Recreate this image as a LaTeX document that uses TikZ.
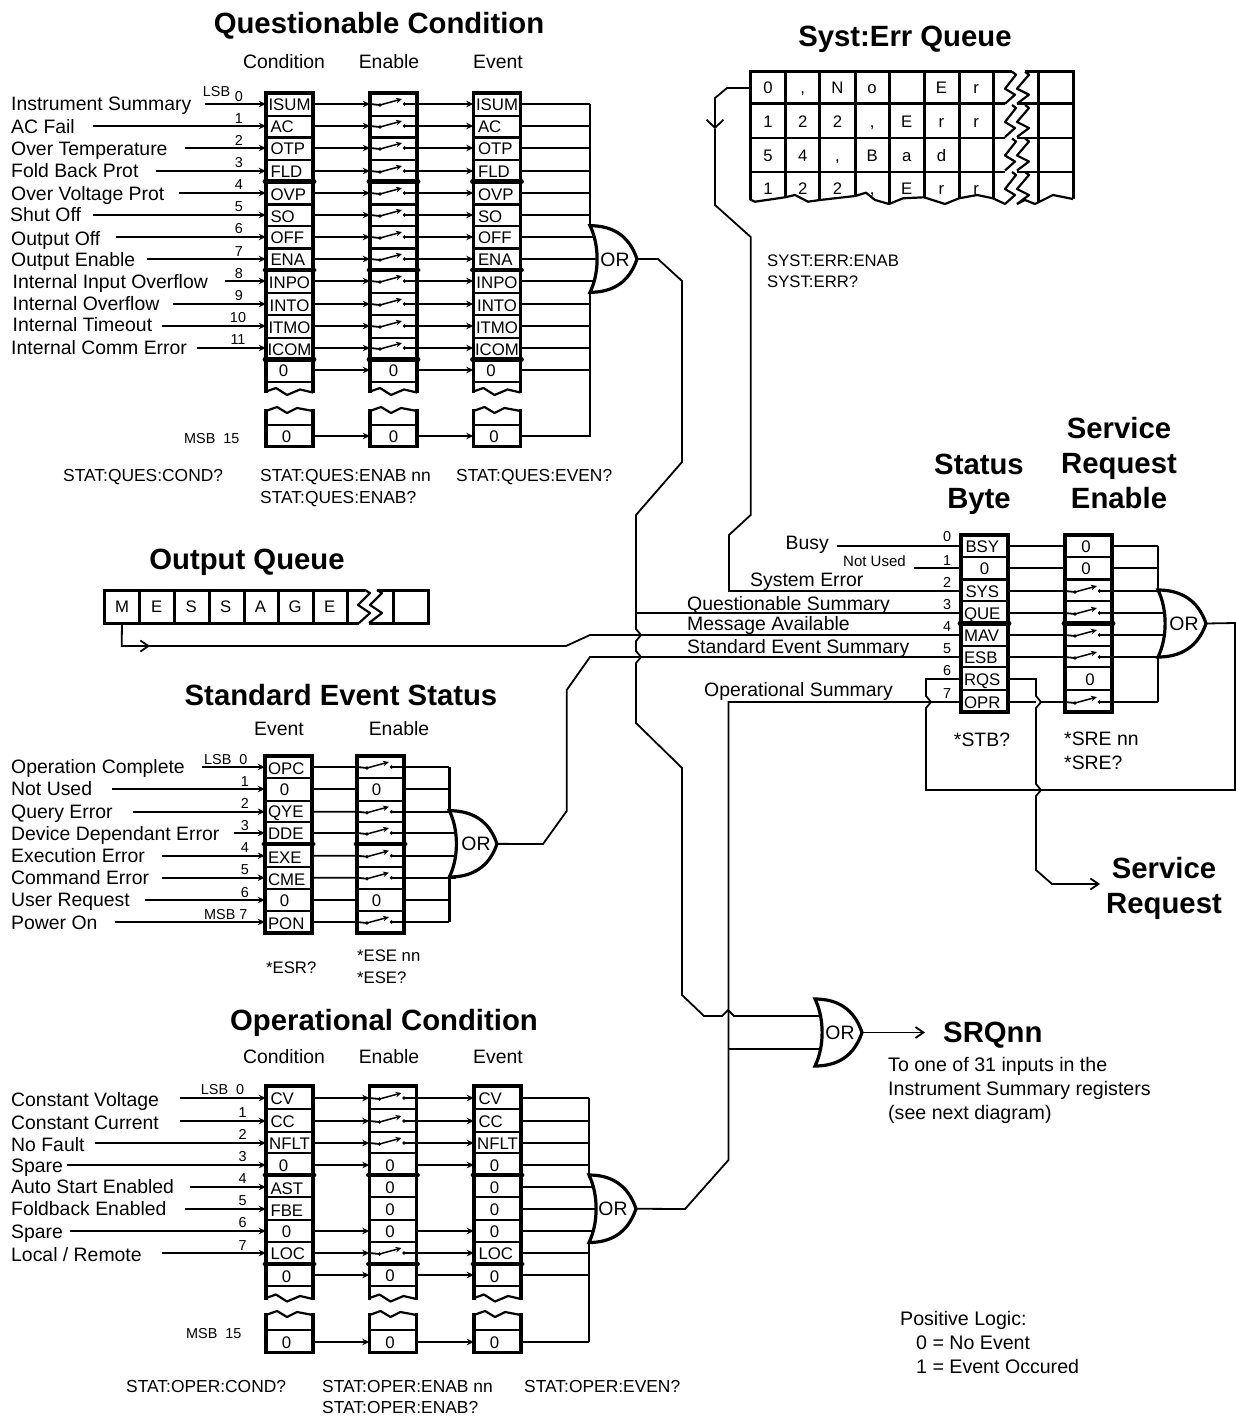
\documentclass[tikz,border=0pt]{standalone}
\usepackage{fontspec}
\setmainfont{Liberation Sans}
\usetikzlibrary{arrows.meta,calc}
\tikzset{
  t19/.style={font=\fontsize{19.4}{22}\selectfont,inner sep=0pt,text height=14pt,text depth=0pt},
  t196/.style={font=\fontsize{19.6}{22}\selectfont,inner sep=0pt,text height=14pt,text depth=0pt},
  t17/.style={font=\fontsize{16.7}{20}\selectfont,inner sep=0pt,text height=12pt,text depth=0pt},
  t174/.style={font=\fontsize{17.4}{20}\selectfont,inner sep=0pt,text height=12.5pt,text depth=0pt},
  t14/.style={font=\fontsize{14.4}{16}\selectfont,inner sep=0pt,text height=10.4pt,text depth=0pt},
  ttl/.style={font=\fontsize{29.3}{32}\selectfont\bfseries,inner sep=0pt,text height=21pt,text depth=0pt},
  cell/.style={font=\fontsize{16.8}{20}\selectfont,inner sep=0pt,minimum width=47pt,minimum height=20pt,text height=12.2pt,text depth=0pt},
  ctr/.style={},
  ctl/.style={text height=15pt},
  lf/.style={text width=38pt,align=left},
  lfl/.style={text width=38pt,align=left,text height=15pt},
  lg/.style={text width=41pt,align=left},
  lgl/.style={text width=41pt,align=left,text height=15pt},
  sig/.style={line width=1.8pt,line join=miter},
  ar/.style={-{Stealth[length=7pt,width=6.5pt]}},
  opn/.style={-{Straight Barb[length=8pt,width=11pt]}},
  arm/.style={line width=1.5pt,-{Stealth[length=6pt,width=5.5pt]}},
  wall/.style={line width=3.2pt,line cap=rect,line join=miter},
  sepn/.style={line width=2.4pt},
  sept/.style={line width=4.8pt,line cap=round},
  wig/.style={line width=2.2pt,line join=round},
  gate/.style={line width=3.2pt,fill=white,line join=miter},
  bus/.style={line width=2.6pt},
}
\newcommand{\zA}{\kern-12pt 0}
\newcommand{\zB}{\kern-6pt 0}
\newcommand{\zC}{\kern-8pt 0}
% switch inside an empty cell node
\newcommand{\swt}[1]{%
  \coordinate (#1L) at ([shift={(-13.5pt,-1pt)}]#1.center);
  \coordinate (#1R) at ([shift={(11pt,0pt)}]#1.center);
  \coordinate (#1A) at ([shift={(8.5pt,5pt)}]#1.center);
  \fill (#1L) circle (1.8pt);
  \fill (#1R) circle (1.8pt);
  \draw[arm] (#1L) -- (#1A);}
% long register: left, top, row separators, thick separators, wiggle bottom, wiggle top, inner line, bottom
\newcommand{\regbox}[8]{%
  \draw[wall] (#1,#5) -- (#1,#2) -- (#1+47,#2) -- (#1+47,#5);
  \draw[wall] (#1,#6) -- (#1,#8) -- (#1+47,#8) -- (#1+47,#6);
  \foreach \ss in {#3} {\draw[sepn] (#1,\ss) -- (#1+47,\ss);}
  \foreach \ss in {#4} {\draw[sept] (#1-1,\ss) -- (#1+48,\ss);}
  \draw[sepn] (#1,#7) -- (#1+47,#7);
  \draw[wig] (#1,#5) -- (#1+10,#5-3.5) -- (#1+21,#5+3.5) -- (#1+34,#5-2) -- (#1+47,#5+1);
  \draw[wig] (#1,#6) -- (#1+11,#6-4) -- (#1+21,#6+2) -- (#1+31,#6-3) -- (#1+47,#6);
}
% short register: left, top, bottom, row separators, thick separators
\newcommand{\plainbox}[5]{%
  \draw[wall] (#1,#2) rectangle (#1+47,#3);
  \foreach \ss in {#4} {\draw[sepn] (#1,\ss) -- (#1+47,\ss);}
  \foreach \ss in {#5} {\draw[sept] (#1-1,\ss) -- (#1+48,\ss);}
}
% OR gate: name, back x, top y, bottom y, tip x, text x
\newcommand{\orgate}[6]{%
  \coordinate (#1tip) at (#5,{(#3+#4)/2});
  \draw[gate] (#2,#3) .. controls (#2+22,#3) and (#5-8,{(#3+#4)/2-24}) .. (#1tip)
     .. controls (#5-8,{(#3+#4)/2+24}) and (#2+22,#4) .. (#2,#4)
     .. controls (#2+9.5,{(#3+#4)/2+14}) and (#2+9.5,{(#3+#4)/2-14}) .. cycle;
  \node[t19] (#1txt) at (#6,{(#3+#4)/2}) {OR};
}
\def\qlist{0/104/ISUM/ctr,1/126/AC/lf,2/148/OTP/lf,3/171/FLD/lf,4/193/OVP/lfl,5/215/SO/lfl,6/237/OFF/lf,7/259/ENA/lf,8/281/INPO/ctl,9/304/INTO/ctl,10/326/ITMO/ctl,11/348/ICOM/ctl,12/370/\zA/ctr,15/436/\zB/ctr}
\begin{document}
\begin{tikzpicture}[x=1pt,y=-1pt]
\useasboundingbox (0,0) rectangle (1236,1418);

% ===== Questionable Condition =====
\node[ttl] (qtitle) at (379,23) {Questionable Condition};
\node[t19] (qh1) at (284,62) {Condition};
\node[t19] (qh2) at (389,62) {Enable};
\node[t19] (qh3) at (498,62) {Event};
\foreach \rr/\yy/\tx/\st in \qlist {
  \node[cell,\st] (qc\rr) at (289.5,\yy) {\tx};
  \node[cell,\st] (qe\rr) at (497,\yy) {\tx};
}
\foreach \rr/\yy in {0/104,1/126,2/148,3/171,4/193,5/215,6/237,7/259,8/281,9/304,10/326,11/348} {
  \node[cell] (qs\rr) at (393.5,\yy) {};
  \swt{qs\rr}
  \draw[sig,ar] (qc\rr.east) -- (qs\rr.west);
  \draw[sig] (qs\rr.west) -- (qs\rr L);
  \draw[sig,ar] (qs\rr R) -- (qe\rr.west);
}
\foreach \rr/\yy in {12/370,15/436} {
  \node[cell] (qs\rr) at (393.5,\yy) {0};
  \draw[sig,ar] (qc\rr.east) -- (qs\rr.west);
  \draw[sig,ar] (qs\rr.east) -- (qe\rr.west);
}
\foreach \ii/\yy/\xx/\tx in {0/104/11/Instrument Summary,1/126/11/AC Fail,2/148/11/Over Temperature,3/170/11/Fold Back Prot,4/193/11/Over Voltage Prot,5/214/10/Shut Off,6/238/11/Output Off,7/259/11/Output Enable,8/281/12.5/Internal Input Overflow,9/303/12.5/Internal Overflow,10/324/12.5/Internal Timeout,11/347/11/Internal Comm Error} {
  \node[t19,anchor=west] (ql\ii) at (\xx,\yy) {\tx};
}
\foreach \rr/\yy/\sx in {0/104/205,1/126/93,2/148/185,3/171/156,4/193/179,5/215/93,6/237/116,7/259/147,8/281/225,9/304/173,10/326/162,11/348/197} {
  \coordinate (qi\rr) at (\sx,\yy);
  \draw[sig,ar] (qi\rr) -- (qc\rr.west);
}
\foreach \ii/\yy/\xx in {0/96/239,1/118/239,2/140/239,3/162/239,4/184/239,5/206/239,6/228/239,7/251/239,8/273/239,9/295/239,10/317/238,11/339/238} {
  \node[t14] (qn\ii) at (\xx,\yy) {\ii};
}
\node[t14] (qlsb) at (216.5,91) {LSB};
\node[t14,anchor=west] (qmsb) at (184,438) {MSB\ \ 15};
\foreach \xx/\nm in {266/c,370/s,473.5/e} {
  \regbox{\xx}{93}{116,137.7,160,204.3,226,248.3,292.7,315,337.7,381.7}{181.7,270,359.3}{391.5}{411}{425}{446.7}
}
\foreach \rr in {0,1,2,3,4,5,9,10,11,12,15} {
  \coordinate (qb\rr) at (590,0);
  \draw[sig] (qe\rr.east) -- (qe\rr.east -| qb\rr);
}
\foreach \rr in {6,7,8} {
  \coordinate (qb\rr) at (597,0);
  \draw[sig] (qe\rr.east) -- (qe\rr.east -| qb\rr);
}
\draw[bus] (590,104) -- (590,225.7);
\draw[bus] (590,292) -- (590,436.7);
\orgate{qg}{590}{225.7}{292.3}{637}{615}
\node[t174,anchor=west] (qb1t) at (63,475) {STAT:QUES:COND?};
\node[t174,anchor=west] (qb2t) at (260,475) {STAT:QUES:ENAB nn};
\node[t174,anchor=west] (qb3t) at (260,497) {STAT:QUES:ENAB?};
\node[t174,anchor=west] (qb4t) at (456,475) {STAT:QUES:EVEN?};

% ===== Syst:Err Queue =====
\node[ttl] (etitle) at (905,36) {Syst:Err Queue};
\foreach \rr/\yy/\lst in {0/88/{0,{,},N,o,{},E,r},1/122/{1,2,2,{,},E,r,r},2/155/{5,4,{,},B,a,d,{}},3/188/{1,2,2,{,},E,r,r}} {
  \foreach \ch [count=\cc] in \lst {
    \node[t17,minimum width=34pt] (sq\rr-\cc) at ({768+(\cc-1)*34.7},\yy) {\ch};
  }
}
\foreach \xx in {750,785,819,855,889,924,959,993,1038,1073} {\draw[line width=3pt] (\xx,70.5) -- (\xx,206);}
\draw[line width=3pt] (748.5,71.7) -- (1012,71.7);
\draw[line width=3pt] (1025,71.7) -- (1074.5,71.7);
\foreach \yy in {103.5,138,172} {
  \draw[sepn] (750,\yy) -- (1005,\yy);
  \draw[sepn] (1017,\yy) -- (1073,\yy);
}
\fill[white] (748,199.5) -- (755,201.7) -- (785,197.3) -- (795,195) -- (808,201.7) -- (820,200) -- (855,196) -- (866,192.7) -- (875,200) -- (889,204) -- (903,198.3) -- (924,197.3) -- (945,204) -- (959,198.3) -- (977,195) -- (993,198.3) -- (1005,204) -- (1017,204) -- (1025,200) -- (1035,204) -- (1053,195) -- (1075,199) -- (1075,208) -- (748,208) -- cycle;
\draw[wig] (750,199.5) -- (755,201.7) -- (785,197.3) -- (795,195) -- (808,201.7) -- (820,200) -- (855,196) -- (866,192.7) -- (875,200) -- (889,204) -- (903,198.3) -- (924,197.3) -- (945,204) -- (959,198.3) -- (977,195) -- (993,198.3) -- (1005,204);
\draw[wig] (1017,204) -- (1025,200) -- (1035,204) -- (1053,195) -- (1073,199);
\foreach \yy in {71.7,105,138.5,172} {
  \fill[white] (1006,\yy+1.3) rectangle (1016,\yy+30);
  \draw[wig] (1012,\yy) -- (1016,\yy+3) -- (1005,\yy+17) -- (1015,\yy+23) -- (1005,\yy+32);
  \draw[wig] (1025,\yy) -- (1029,\yy+3) -- (1017,\yy+17) -- (1029,\yy+23) -- (1017,\yy+32);
}
\node[t17,anchor=west] (eb1) at (767,260) {SYST:ERR:ENAB};
\node[t17,anchor=west] (eb2) at (767,281) {SYST:ERR?};

% ===== Output Queue =====
\node[ttl] (otitle) at (247,559) {Output Queue};
\foreach \ch [count=\cc] in {M,E,S,S,A,G,E} {
  \node[t17,minimum width=34pt,minimum height=33pt] (oq\cc) at ({122+(\cc-1)*34.6},606.5) {\ch};
}
\foreach \xx in {104,139,174,209,244,278,313,347,393,428} {\draw[line width=3pt] (\xx,588.5) -- (\xx,624.5);}
\draw[line width=3pt] (102.5,590) -- (365,590);
\draw[line width=3pt] (377,590) -- (429.5,590);
\draw[line width=3pt] (102.5,623) -- (359,623);
\draw[line width=3pt] (369,623) -- (429.5,623);
\draw[wig] (365,590) -- (370,593) -- (358,605) -- (370,613) -- (359,623);
\draw[wig] (377,590) -- (382,593) -- (370,605) -- (382,613) -- (369,623);

% ===== Status Byte / Service Request Enable =====
\node[ttl] (stitle1) at (979,464) {Status};
\node[ttl] (stitle2) at (979,498) {Byte};
\node[ttl] (rtitle1) at (1119,428) {Service};
\node[ttl] (rtitle2) at (1119,463) {Request};
\node[ttl] (rtitle3) at (1119,498) {Enable};
\foreach \rr/\yy/\tx/\st in {0/546/BSY/lf,1/568/0/ctr,2/591/SYS/lf,3/613/QUE/lg,4/635/MAV/lg,5/657/ESB/lg,6/679/RQS/lg,7/702/OPR/lg} {
  \node[cell,\st] (sb\rr) at (984.5,\yy) {\tx};
}
\foreach \rr/\yy in {2/591,3/613,4/635,5/657,7/702} {
  \node[cell] (sr\rr) at (1088.5,\yy) {};
  \swt{sr\rr}
}
\node[cell] (sr0) at (1086,546) {0};
\node[cell] (sr1) at (1086,568) {0};
\node[cell] (sr6) at (1090,679) {0};
\foreach \ii/\yy in {0/536,1/560,2/582,3/604,4/626,5/648,6/670,7/693} {
  \node[t14] (sn\ii) at (947,\yy) {\ii};
}
\node[t19,anchor=west] (sl0) at (785.5,542) {Busy};
\node[t17,font=\fontsize{15}{18}\selectfont,anchor=west] (sl1) at (843,560) {Not Used};
\node[t19,anchor=west] (sl2) at (750,579) {System Error};
\node[t19,anchor=west] (sl3) at (687,603) {Questionable Summary};
\node[t19,anchor=west] (sl4) at (687,623) {Message Available};
\node[t19,anchor=west] (sl5) at (687,646) {Standard Event Summary};
\node[t19,anchor=west] (sl7) at (704,689) {Operational Summary};
\coordinate (si0) at (837,546);
\coordinate (si1) at (914,568);
\draw[sig] (si0) -- (sb0.west);
\draw[sig] (si1) -- (sb1.west);
\foreach \rr in {2,3,4,5} {
  \draw[sig] (sb\rr.east) -- (sr\rr.west) -- (sr\rr L);
}
\draw[sig] (sb0.east) -- (sr0.west -| 1065,546);
\draw[sig] (sb1.east) -- (1065,568);
\draw[sig] (1112,546) -- (1158,546);
\draw[sig] (1112,568) -- (1158,568);
\draw[sig] (sr2R) -- (1163,591);
\draw[sig] (sr3R) -- (1163,613);
\draw[sig] (sr4R) -- (1163,635);
\draw[sig] (sr5R) -- (1163,657);
\draw[sig] (sr7R) -- (1158,702);
\draw[bus] (1158,546) -- (1158,590);
\draw[bus] (1158,657) -- (1158,702);
\plainbox{961}{535}{712}{557,579.3,601,646,667,690}{623.3}
\plainbox{1065}{535}{712}{557,579.3,601,646,667,690}{623.3}
\orgate{sg}{1158}{590}{657}{1206}{1184}
\node[t19] (sq1) at (982,739) {*STB?};
\node[t19,anchor=west] (sq2) at (1064,738) {*SRE nn};
\node[t19,anchor=west] (sq3) at (1064,762) {*SRE?};

% ===== Standard Event Status =====
\node[ttl] (vtitle) at (341,695) {Standard Event Status};
\node[t19] (vh1) at (279,728) {Event};
\node[t19] (vh2) at (399,728) {Enable};
\foreach \rr/\yy/\tx/\st in {0/767/OPC/lgl,1/789/\zC/ctr,2/811.7/QYE/lg,3/833/DDE/lg,4/855.7/EXE/lgl,5/877.7/CME/lgl,6/900/\zC/ctr,7/922/PON/lgl} {
  \node[cell,\st] (ve\rr) at (288.5,\yy) {\tx};
}
\foreach \rr/\yy in {0/767,2/811.7,3/833,4/855.7,5/877.7,7/922} {
  \node[cell] (vs\rr) at (380.5,\yy) {};
  \swt{vs\rr}
  \draw[sig] (ve\rr.east) -- (vs\rr.west) -- (vs\rr L);
}
\foreach \rr/\yy in {1/789,6/900} {
  \node[cell] (vs\rr) at (380.5,\yy) {\zC};
  \draw[sig] (ve\rr.east) -- (vs\rr.west);
}
\foreach \ii/\yy/\tx in {0/766/Operation Complete,1/788/Not Used,2/811/Query Error,3/833/Device Dependant Error,4/855/Execution Error,5/877/Command Error,6/899/User Request,7/922/Power On} {
  \node[t19,anchor=west] (vl\ii) at (11,\yy) {\tx};
}
\foreach \rr/\sx in {0/202,1/112,2/133,3/234,4/162,5/162,6/145,7/115} {
  \coordinate (vi\rr) at (ve\rr.west -| \sx,0);
  \draw[sig,ar] (vi\rr) -- (ve\rr.west);
}
\foreach \ii/\yy in {1/781,2/803,3/825,4/847,5/869,6/892} {
  \node[t14] (vn\ii) at (245,\yy) {\ii};
}
\node[t14,anchor=west] (vlsb) at (204,759) {LSB\ \ 0};
\node[t14,anchor=west] (vmsb) at (204,914) {MSB 7};
\foreach \rr in {0,1,6,7} {
  \coordinate (vb\rr) at (449.3,0);
  \draw[sig] (vs\rr.east) -- (vs\rr.east -| vb\rr);
}
\foreach \rr in {2,3,4,5} {
  \coordinate (vb\rr) at (456,0);
  \draw[sig] (vs\rr R) -- (vs\rr R -| vb\rr);
}
\draw[sig] (vs0R) -- (vs0.east);
\draw[sig] (vs7R) -- (vs7.east);
\draw[bus] (449.3,767) -- (449.3,810.7);
\draw[bus] (449.3,876.7) -- (449.3,922);
\plainbox{265}{756}{933}{778,800.7,822,866.7,889,911}{844}
\plainbox{357}{756}{933}{778,800.7,822,866.7,889,911}{844}
\orgate{vg}{449.3}{810.7}{877}{497}{476}
\node[t17,anchor=west] (vb1t) at (266,967) {*ESR?};
\node[t17,anchor=west] (vb2t) at (357,955) {*ESE nn};
\node[t17,anchor=west] (vb3t) at (357,977) {*ESE?};

% ===== Operational Condition =====
\node[ttl] (ptitle) at (384,1020) {Operational Condition};
\node[t19] (ph1) at (284,1056) {Condition};
\node[t19] (ph2) at (389,1056) {Enable};
\node[t19] (ph3) at (498,1056) {Event};
\foreach \rr/\yy/\tx/\st in {0/1098/CV/lf,1/1121/CC/lf,2/1143/NFLT/ctr,3/1165/\zA/ctr,4/1187/AST/lfl,5/1209/FBE/lfl,6/1231/\zB/ctr,7/1253/LOC/lf,8/1275/\zB/ctl,15/1342/\zB/ctr} {
  \node[cell,\st] (pc\rr) at (289.5,\yy) {\tx};
}
\foreach \rr/\yy/\tx/\st in {0/1098/CV/lf,1/1121/CC/lf,2/1143/NFLT/ctr,3/1165/\zB/ctr,4/1187/\zB/ctr,5/1209/\zB/ctr,6/1231/\zB/ctr,7/1253/LOC/lf,8/1275/\zB/ctl,15/1342/\zB/ctr} {
  \node[cell,\st] (pe\rr) at (497.5,\yy) {\tx};
}
\foreach \rr/\yy in {0/1098,1/1121,2/1143,7/1253} {
  \node[cell] (ps\rr) at (393,\yy) {};
  \swt{ps\rr}
  \draw[sig,ar] (pc\rr.east) -- (ps\rr.west);
  \draw[sig] (ps\rr.west) -- (ps\rr L);
  \draw[sig,ar] (ps\rr R) -- (pe\rr.west);
}
\foreach \rr/\yy in {3/1165,6/1231,8/1275,15/1342} {
  \node[cell] (ps\rr) at (393,\yy) {\zB};
  \draw[sig,ar] (pc\rr.east) -- (ps\rr.west);
  \draw[sig,ar] (ps\rr.east) -- (pe\rr.west);
}
\foreach \rr/\yy in {4/1187,5/1209} {
  \node[cell] (ps\rr) at (393,\yy) {\zB};
}
\foreach \ii/\yy/\tx in {0/1099/Constant Voltage,1/1122/Constant Current,2/1144/No Fault,3/1165/Spare,4/1186/Auto Start Enabled,5/1208/Foldback Enabled,6/1231/Spare,7/1254/{Local / Remote}} {
  \node[t19,anchor=west] (pl\ii) at (11,\yy) {\tx};
}
\foreach \rr/\sx in {0/180,1/180,2/95,3/67,4/190,5/185,6/70,7/162} {
  \coordinate (pi\rr) at (pc\rr.west -| \sx,0);
  \draw[sig,ar] (pi\rr) -- (pc\rr.west);
}
\foreach \ii/\yy in {1/1112,2/1134,3/1156,4/1178,5/1200,6/1222,7/1245} {
  \node[t14] (pn\ii) at (242.7,\yy) {\ii};
}
\node[t14,anchor=west] (plsb) at (200.7,1089) {LSB\ \ 0};
\node[t14,anchor=west] (pmsb) at (186,1333) {MSB\ \ 15};
\foreach \xx in {266,369.5,474} {
  \regbox{\xx}{1086}{1109,1131.7,1153,1197,1220,1242,1286}{1175,1264}{1298}{1315}{1330}{1352.7}
}
\foreach \rr in {0,1,2,3,7,8,15} {
  \coordinate (pb\rr) at (589,0);
  \draw[sig] (pe\rr.east) -- (pe\rr.east -| pb\rr);
}
\foreach \rr in {4,5,6} {
  \coordinate (pb\rr) at (595,0);
  \draw[sig] (pe\rr.east) -- (pe\rr.east -| pb\rr);
}
\draw[bus] (589,1098) -- (589,1175);
\draw[bus] (589,1242) -- (589,1342);
\orgate{pg}{589}{1175}{1242.5}{636}{613}
\node[t174,anchor=west] (pb1t) at (126,1386) {STAT:OPER:COND?};
\node[t174,anchor=west] (pb2t) at (322,1386) {STAT:OPER:ENAB nn};
\node[t174,anchor=west] (pb3t) at (322,1407) {STAT:OPER:ENAB?};
\node[t174,anchor=west] (pb4t) at (524,1386) {STAT:OPER:EVEN?};

% ===== SRQ gate =====
\orgate{rg}{815}{999}{1066}{862}{840}
\node[ttl,anchor=west] (srq) at (943,1032) {SRQnn};
\node[t196,anchor=west] (srq1) at (888,1064) {To one of 31 inputs in the};
\node[t196,anchor=west] (srq2) at (888,1088) {Instrument Summary registers};
\node[t196,anchor=west] (srq3) at (888,1112) {(see next diagram)};
\coordinate (rgend) at (925,1032.5);
\draw[sig,opn] (rgtip) -- (rgend);

% ===== Notes =====
\node[t196,anchor=west] (nt1) at (900,1318) {Positive Logic:};
\node[t196,anchor=west] (nt2) at (916,1342) {0 = No Event};
\node[t196,anchor=west] (nt3) at (916,1366) {1 = Event Occured};
\node[ttl] (sv1) at (1164,868) {Service};
\node[ttl] (sv2) at (1164,903) {Request};

% ===== Long connectors =====
% Questionable summary, also into the SRQ gate
\coordinate (qj) at (636,613);
\coordinate (rgin1) at (820,1016);
\coordinate (rgin2) at (820,1049);
\draw[sig] (qgtip) -- (658,259) -- (682,281) -- (682,462) -- (636,515) -- (636,629) -- (641,635) -- (636,641) -- (636,651) -- (641,657) -- (636,663) -- (636,723) -- (682,768) -- (682,995) -- (704,1016) -- (722,1016) -- (728,1010) -- (734,1016) -- (rgin1);
\draw[sig] (qj) -- (sb3.west);
% Message available
\coordinate (mavm) at (566,646);
\draw[sig] (oq1.south) -- (121.7,646) -- (mavm) -- (590,635) -- (sb4.west);
\draw[sig,opn] (121.7,646) -- (150,646);
% Standard event summary
\draw[sig] (vgtip) -- (543,844) -- (566.7,811) -- (566.7,690) -- (590,657) -- (sb5.west);
% Operational summary
\draw[sig] (pgtip) -- (685,1209) -- (728.5,1160) -- (728.5,702) -- (sb7.west);
\coordinate (opj) at (728.5,1049);
\draw[sig] (opj) -- (rgin2);
% System error
\coordinate (sqv) at (715,129);
\draw[sig] (sb2.west) -- (729,591) -- (729,535) -- (750.7,515) -- (750.7,237) -- (715,205) -- (sqv);
\draw[sig,-{Straight Barb[length=8pt,width=17pt]}] (sq0-1.west) -- (727,88) -- (715,98) -- (sqv);
% Service request loop
\draw[sig] (sgtip) -- (1235,623) -- (1235,790) -- (926,790) -- (926,708) -- (931,702) -- (926,696) -- (926,679) -- (sb6.west);
\coordinate (rsend) at (1100,884);
\draw[sig,opn] (sb6.east) -- (1036,679) -- (1036,696) -- (1041,702) -- (1036,708) -- (1036,784) -- (1041,790) -- (1036,796) -- (1036,870) -- (1052,884) -- (rsend);
\draw[sig] (sb7.east) -- (1036,702);
\draw[sig] (1041,702) -- (sr7.west) -- (sr7L);
\end{tikzpicture}
\end{document}
